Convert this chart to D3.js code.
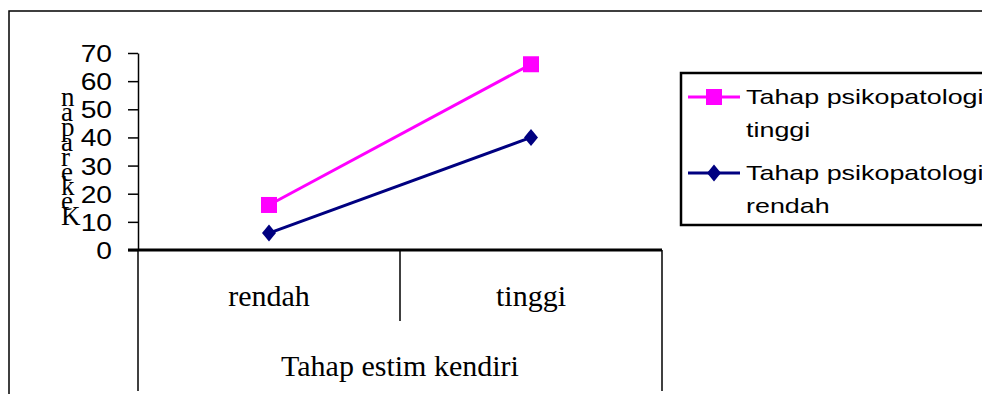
<!DOCTYPE html>
<html>
<head>
<meta charset="utf-8">
<script src="https://cdn.jsdelivr.net/npm/d3@7"></script>
<style>
  html, body { margin: 0; padding: 0; background: #fff; }
  svg { display: block; }
</style>
</head>
<body>
<svg id="chart" width="982" height="394"></svg>
<script>
// ---- data ----
const categories = ["rendah", "tinggi"];
const seriesNames = ["Tahap psikopatologi tinggi", "Tahap psikopatologi rendah"];
const seriesHigh = [16, 66];   // Tahap psikopatologi tinggi
const seriesLow = [6, 40];     // Tahap psikopatologi rendah
const yTicks = [0, 10, 20, 30, 40, 50, 60, 70];
const xTitle = "Tahap estim kendiri";
const yTitle = "Kekerapan";
const legendLines = [["Tahap psikopatologi", "tinggi"], ["Tahap psikopatologi", "rendah"]];

const svg = d3.select("#chart");
const W = 982, H = 394;

// outer frame
svg.append("rect").attr("x", 9).attr("y", 11).attr("width", W + 20).attr("height", H + 20)
  .attr("fill", "none").attr("stroke", "#000").attr("stroke-width", 1.5);

const x = d3.scaleBand().domain(categories).range([138, 662]);
const y = d3.scaleLinear().domain([0, 70]).range([250, 53]);

// y axis
const yAxis = d3.axisLeft(y).tickValues(yTicks).tickSize(10).tickSizeOuter(0).tickPadding(16);
const gy = svg.append("g").attr("transform", "translate(138,0)").call(yAxis);
gy.select(".domain").attr("stroke", "#000").attr("stroke-width", 1.5);
gy.selectAll(".tick line").attr("stroke", "#000").attr("stroke-width", 1.5);
const sx = 1.2;
gy.selectAll(".tick text")
  .attr("font-family", "'Liberation Sans', Arial, sans-serif")
  .attr("font-size", 23.5)
  .attr("fill", "#000")
  .attr("dy", "0.36em")
  .attr("x", -26 / sx)
  .attr("transform", `scale(${sx},1)`);

// x axis line
svg.append("line").attr("x1", 128).attr("x2", x.range()[1]).attr("y1", y(0)).attr("y2", y(0))
  .attr("stroke", "#000").attr("stroke-width", 3);

// category separators
const bounds = [x(categories[0]), x(categories[1]), x(categories[1]) + x.bandwidth()];
svg.selectAll(".sep").data(bounds).enter().append("line")
  .attr("x1", d => d).attr("x2", d => d)
  .attr("y1", y(0))
  .attr("y2", (d, i) => i === 1 ? 321 : 391)
  .attr("stroke", "#000").attr("stroke-width", 1.5);

// category labels
svg.selectAll(".cat").data(categories).enter().append("text")
  .attr("x", d => x(d) + x.bandwidth() / 2).attr("y", 306)
  .attr("text-anchor", "middle")
  .attr("font-family", "'Liberation Serif', 'Times New Roman', serif")
  .attr("font-size", 30).attr("fill", "#000")
  .text(d => d);

svg.append("text").attr("x", (x.range()[0] + x.range()[1]) / 2).attr("y", 376)
  .attr("text-anchor", "middle")
  .attr("font-family", "'Liberation Serif', 'Times New Roman', serif")
  .attr("font-size", 30).attr("fill", "#000")
  .text(xTitle);

// y title stacked letters (reversed, bottom to top)
const letters = yTitle.split("").reverse();
svg.selectAll(".ylet").data(letters).enter().append("text")
  .attr("x", 61).attr("y", (d, i) => 106 + i * 14.9)
  .attr("font-family", "'Liberation Serif', 'Times New Roman', serif")
  .attr("font-size", 27).attr("fill", "#000")
  .text(d => d);

// lines
const colors = ["#FF00FF", "#000080"];
const seriesData = [seriesHigh, seriesLow];
const line = d3.line().x((d, i) => x(categories[i]) + x.bandwidth() / 2).y(d => y(d));
seriesData.forEach((s, k) => {
  svg.append("path").datum(s).attr("d", line).attr("fill", "none")
    .attr("stroke", colors[k]).attr("stroke-width", 3);
});

function marker(g, k, cx, cy) {
  if (k === 0) {
    g.append("rect").attr("x", cx - 8).attr("y", cy - 8).attr("width", 16).attr("height", 16)
      .attr("fill", colors[0]);
  } else {
    g.append("path").attr("d", `M${cx},${cy - 8.5}L${cx + 7},${cy}L${cx},${cy + 8.5}L${cx - 7},${cy}Z`)
      .attr("fill", colors[1]);
  }
}
seriesData.forEach((s, k) => {
  s.forEach((v, i) => marker(svg, k, x(categories[i]) + x.bandwidth() / 2, y(v)));
});

// legend
svg.append("rect").attr("x", 681).attr("y", 73).attr("width", 340).attr("height", 152)
  .attr("fill", "#fff").attr("stroke", "#000").attr("stroke-width", 2.5);
const legY = [97, 173];
const legBase = [[104, 137], [180, 213]];
legendLines.forEach((lines, k) => {
  svg.append("line").attr("x1", 688).attr("x2", 740).attr("y1", legY[k]).attr("y2", legY[k])
    .attr("stroke", colors[k]).attr("stroke-width", 3);
  marker(svg, k, 714, legY[k]);
  lines.forEach((t, j) => {
    svg.append("text")
      .attr("transform", `translate(746,${legBase[k][j]}) scale(1.28,1)`)
      .attr("font-family", "'Liberation Sans', Arial, sans-serif")
      .attr("font-size", 21).attr("fill", "#000")
      .text(t);
  });
});
</script>
</body>
</html>
